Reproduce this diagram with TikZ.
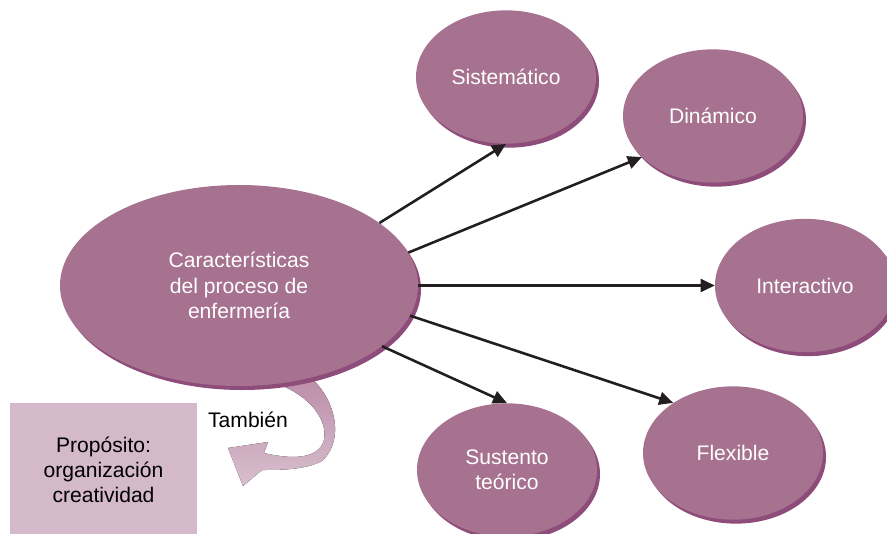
\documentclass[tikz,border=0pt]{standalone}
\usepackage{fontspec}
\setmainfont{Liberation Sans}
\usetikzlibrary{shapes.geometric,shadows,arrows.meta}

\begin{document}
\begin{tikzpicture}[x=0.03cm, y=-0.03cm,
    trait/.style={ellipse, fill=nodepurple, text=white, inner sep=0pt,
      minimum width=5.4cm, minimum height=4cm, align=center,
      drop shadow={shadow xshift=0.09cm, shadow yshift=-0.12cm, opacity=1, fill=edgepurple}},
    link/.style={draw=linkblack, line width=2.2pt, -{Triangle[length=12pt, width=11pt]}}]
          \definecolor{nodepurple}{RGB}{166,114,143}
          \definecolor{edgepurple}{RGB}{142,76,122}
          \definecolor{boxpink}{RGB}{212,185,202}
          \definecolor{bandtop}{RGB}{188,143,170}
          \definecolor{bandbottom}{RGB}{216,191,206}
          \definecolor{linkblack}{RGB}{35,31,32}
          \fontsize{18}{21.5}\selectfont
          \useasboundingbox (0, 0) rectangle (887, 534);
          % curved band that goes under the main ellipse
          \fill[top color=bandtop, bottom color=bandbottom]
            (275, 383) -- (313, 380) .. controls (335, 400) and (345, 440) .. (322, 461)
            .. controls (305, 470) and (280, 470) .. (262, 470) -- (243, 486) -- (228, 448)
            -- (268, 442) -- (264, 453) .. controls (285, 458) and (318, 462) .. (324, 440)
            .. controls (328, 420) and (310, 395) .. (275, 383) -- cycle;
          \node[trait, minimum width=10.74cm, minimum height=6.03cm] (main) at (239, 285.5)
            {Características\\del proceso de\\enfermería};
          \node[trait] (sis) at (506, 77) {Sistemático};
          \node[trait] (din) at (713, 116) {Dinámico};
          \node[trait] (int) at (805, 285.5) {Interactivo};
          \node[trait] (sus) at (507, 470) {Sustento\\teórico};
          \node[trait] (flex) at (733, 453) {Flexible};
          \node[rectangle, fill=boxpink, minimum width=5.61cm, minimum height=4.02cm, align=center]
            (prop) at (103.5, 470) {Propósito:\\organización\\creatividad};
          \node (tamb) at (248, 420) {También};
          \draw[link] (main.24) -- (sis.south);
          \draw[link] (main.11) -- (din.210);
          \draw[link] (main.0) -- (int.west);
          \draw[link] (main.-10) -- (flex.140);
          \draw[link] (main.-23) -- (sus.north);
    \end{tikzpicture}
\end{document}
